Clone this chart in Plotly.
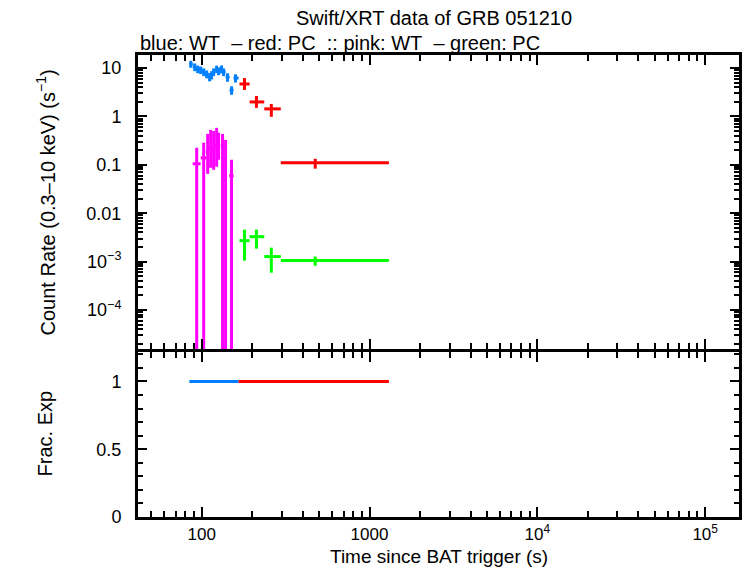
import plotly.graph_objects as go

# ---------------- data ----------------
# WT (blue) count rate
blue_t = [86.1, 90.9, 94.7, 98.6, 102.8, 107.1, 111.5, 114.6, 117.8, 122.8, 126.1, 131.4, 135.1, 142.7, 150.7, 159.1]
blue_tlo = [84.5, 88.5, 92.8, 96.6, 100.7, 104.9, 109.3, 113.0, 116.2, 120.3, 124.4, 128.7, 133.2, 138.9, 146.7, 154.9]
blue_thi = [88.5, 92.8, 96.6, 100.7, 104.9, 109.3, 113.0, 116.2, 120.3, 124.4, 128.7, 133.2, 138.9, 146.7, 154.9, 166.0]
blue_rate = [12.1, 10.5, 9.5, 9.1, 8.3, 7.5, 6.6, 7.2, 8.3, 9.5, 8.7, 9.5, 8.3, 6.5, 3.5, 6.2]
blue_err = [2.0, 1.9, 1.7, 1.6, 1.5, 1.4, 1.3, 1.4, 1.5, 1.7, 1.6, 1.8, 1.5, 1.3, 0.7, 1.2]

# PC (red) count rate
red_t = [180.0, 212.0, 260.0, 475.0]
red_tlo = [168.0, 193.0, 236.0, 296.0]
red_thi = [193.0, 236.0, 296.0, 1305.0]
red_rate = [4.68, 1.99, 1.43, 0.110]
red_hi = [6.2, 2.64, 1.81, 0.133]
red_lo = [3.52, 1.50, 0.98, 0.0833]

# WT (pink) second series
pink_t = [93.4, 102.8, 108.6, 113.1, 117.8, 122.8, 126.1, 133.2, 138.8, 150.6]
pink_tlo = [88.4, 98.6, 105.8, 111.0, 115.5, 120.3, 124.4, 130.0, 136.5, 146.0]
pink_thi = [98.6, 106.5, 111.0, 115.5, 120.3, 124.4, 128.7, 136.5, 141.0, 155.0]
pink_rate = [0.105, 0.139, 0.185, 0.224, 0.204, 0.247, 0.258, 0.247, 0.133, 0.0593]
pink_hi = [0.224, 0.285, 0.435, 0.527, 0.50, 0.58, 0.46, 0.435, 0.327, 0.127]
pink_lo = [0.0, 0.0, 0.065, 0.0867, 0.0789, 0.0911, 0.127, 0.0, 0.0, 0.0]

# PC (green) second series
green_t = [180.0, 212.0, 260.0, 475.0]
green_tlo = [168.0, 193.0, 236.0, 296.0]
green_thi = [193.0, 236.0, 296.0, 1305.0]
green_rate = [2.71e-3, 3.27e-3, 1.27e-3, 1.05e-3]
green_hi = [4.57e-3, 4.57e-3, 1.94e-3, 1.27e-3]
green_lo = [1.05e-3, 1.85e-3, 5.9e-4, 8.2e-4]

# fractional exposure
fexp_blue_t = [125.3]
fexp_blue_lo = [84.5]
fexp_blue_hi = [166.0]
fexp_blue = [1.0]
fexp_red_t = [471.0]
fexp_red_lo = [166.0]
fexp_red_hi = [1305.0]
fexp_red = [1.0]

x_tickvals = [100, 1000, 1e4, 1e5]
x_ticktext = ["100", "1000", "10<sup>4</sup>", "10<sup>5</sup>"]
y_tickvals = [10, 1, 0.1, 0.01, 1e-3, 1e-4]
y_ticktext = ["10", "1", "0.1", "0.01", "10<sup>\u22123</sup>", "10<sup>\u22124</sup>"]
f_tickvals = [0, 0.5, 1]
f_ticktext = ["0", "0.5", "1"]

BLUE = "#0080ff"
RED = "#ff0000"
PINK = "#ff00ff"
GREEN = "#00ff00"
FONT = "Liberation Sans"
TICKSIZE = 18
LABELSIZE = 20

# ---------------- figure ----------------
fig = go.Figure()


def add_series(t, tlo, thi, y, ylo, yhi, color, xa, ya, lw=3):
    fig.add_trace(go.Scatter(
        x=t, y=y, mode="markers",
        marker=dict(size=2, color=color),
        error_x=dict(type="data", symmetric=False,
                     array=[h - v for h, v in zip(thi, t)],
                     arrayminus=[v - l for v, l in zip(t, tlo)],
                     color=color, thickness=lw, width=0),
        error_y=dict(type="data", symmetric=False,
                     array=[h - v for h, v in zip(yhi, y)],
                     arrayminus=[v - l for v, l in zip(y, ylo)],
                     color=color, thickness=lw, width=0),
        xaxis=xa, yaxis=ya, showlegend=False, hoverinfo="skip"))


add_series(blue_t, blue_tlo, blue_thi, blue_rate,
           [r - e for r, e in zip(blue_rate, blue_err)],
           [r + e for r, e in zip(blue_rate, blue_err)], BLUE, "x", "y")
add_series(red_t, red_tlo, red_thi, red_rate, red_lo, red_hi, RED, "x", "y")
add_series(pink_t, pink_tlo, pink_thi, pink_rate, pink_lo, pink_hi, PINK, "x", "y")
add_series(green_t, green_tlo, green_thi, green_rate, green_lo, green_hi, GREEN, "x", "y")
add_series(fexp_blue_t, fexp_blue_lo, fexp_blue_hi, fexp_blue, fexp_blue, fexp_blue, BLUE, "x2", "y2")
add_series(fexp_red_t, fexp_red_lo, fexp_red_hi, fexp_red, fexp_red, fexp_red, RED, "x2", "y2")

W, H = 746, 568
L, R, T, B = 138, 4, 55, 51
PH = H - T - B
split = (517 - 349) / PH
gap = 3 / PH

axis_common = dict(showline=True, linecolor="black", linewidth=3, mirror="ticks",
                   ticks="inside", tickcolor="black", tickwidth=2, showgrid=False,
                   zeroline=False)

xrange_ = [1.6206, 5.2016]
fig.update_layout(
    width=W, height=H,
    margin=dict(l=L, r=R, t=T, b=B),
    paper_bgcolor="white", plot_bgcolor="white",
    font=dict(family=FONT, size=TICKSIZE, color="black"),
    xaxis=dict(type="log", range=xrange_, domain=[0, 1], anchor="y",
               tickvals=x_tickvals, ticktext=x_ticktext, showticklabels=False,
               ticklen=10, minor=dict(ticks="inside", ticklen=6, tickwidth=2,
                                      tickcolor="black", dtick="D1", showgrid=False),
               **axis_common),
    yaxis=dict(type="log", range=[-4.806, 1.2686], domain=[split, 1], anchor="x",
               tickvals=y_tickvals, ticktext=y_ticktext, ticklen=9,
               ticklabelstandoff=10,
               tickfont=dict(family=FONT, size=TICKSIZE, color="black"),
               minor=dict(ticks="inside", ticklen=5, tickwidth=2,
                          tickcolor="black", dtick="D1", showgrid=False),
               **axis_common),
    xaxis2=dict(type="log", range=xrange_, domain=[0, 1], anchor="y2",
                tickvals=x_tickvals, ticktext=x_ticktext, ticklen=10,
                ticklabelstandoff=0,
                tickfont=dict(family=FONT, size=17, color="black"),
                minor=dict(ticks="inside", ticklen=6, tickwidth=2,
                           tickcolor="black", dtick="D1", showgrid=False),
                **axis_common),
    yaxis2=dict(range=[0, 1.217], domain=[0, split - gap], anchor="x2",
                tickvals=f_tickvals, ticktext=f_ticktext, ticklen=9,
                ticklabelstandoff=10,
                tickfont=dict(family=FONT, size=TICKSIZE, color="black"),
                minor=dict(ticks="inside", ticklen=5, tickwidth=2,
                           tickcolor="black", dtick=0.1, showgrid=False),
                **axis_common),
)


def px2paper(px, py):
    return (px - L) / (W - L - R), (H - B - py) / PH


NB = "\u00a0"
annots = [
    ("Swift/XRT data of GRB 051210", 435, 18, 0, "center", LABELSIZE),
    ("blue: WT" + NB + NB + "\u2013 red: PC" + NB + NB + ":: pink: WT" + NB + NB + "\u2013 green: PC",
     138, 43, 0, "left", LABELSIZE),
    ("Time since BAT trigger (s)", 440, 556, 0, "center", 19),
    ("Count Rate (0.3\u201310 keV) (s<sup>\u22121</sup>)", 45, 202, -90, "center", LABELSIZE),
    ("Frac. Exp", 45, 433, -90, "center", LABELSIZE),
]
for text, px, py, ang, align, sz in annots:
    ax_, ay_ = px2paper(px, py)
    fig.add_annotation(text=text, x=ax_, y=ay_, xref="paper", yref="paper",
                       showarrow=False, textangle=ang,
                       xanchor="left" if align == "left" else "center",
                       yanchor="middle", font=dict(family=FONT, size=sz, color="black"))

fig.write_html("out.html")
